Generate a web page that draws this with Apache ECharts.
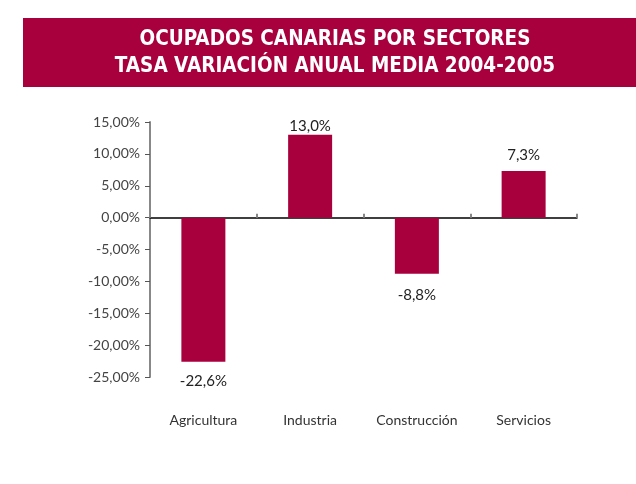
<!DOCTYPE html>
<html>
<head>
<meta charset="utf-8">
<script src="https://cdn.jsdelivr.net/npm/echarts@6/dist/echarts.min.js"></script>
<style>
  html, body { margin: 0; padding: 0; background: #fff; }
  #chart { width: 636px; height: 484px; }
</style>
</head>
<body>
<div id="chart"></div>
<script>
var categories = ['Agricultura', 'Industria', 'Construcción', 'Servicios'];
var values = [-22.6, 13.0, -8.8, 7.3];
var titleLines = ['OCUPADOS CANARIAS POR SECTORES', 'TASA VARIACIÓN ANUAL MEDIA 2004-2005'];

var wine = '#a8003c';
var font = 'Lato';
// gap between bar end and its value label, per bar (as in the source image)
var labelGap = [12, 1, 14, 8];

var chart = echarts.init(document.getElementById('chart'));

function fmtAxis(v) {
  return v.toFixed(2).replace('.', ',') + '%';
}
function fmtLabel(p) {
  return p.value.toFixed(1).replace('.', ',') + '%';
}

var option = {
  backgroundColor: '#fff',
  animation: false,
  graphic: [
    {
      type: 'rect',
      shape: { x: 23, y: 18, width: 613, height: 69 },
      style: { fill: wine }
    },
    {
      type: 'text',
      x: 335, y: 53,
      style: {
        text: titleLines.join('\n'),
        fill: '#fff',
        font: 'bold 20.5px "DejaVu Sans Condensed", "DejaVu Sans", sans-serif',
        align: 'center',
        verticalAlign: 'middle',
        lineHeight: 27
      }
    }
  ],
  grid: { left: 150, right: 59, top: 122, bottom: 107 },
  xAxis: [
    {
      type: 'category',
      data: categories,
      position: 'bottom',
      axisLine: { show: false, onZero: false },
      axisTick: { show: false },
      axisLabel: { interval: 0, margin: 36, color: '#333', fontFamily: font, fontSize: 14 }
    },
    {
      type: 'category',
      data: categories,
      axisLine: { show: true, onZero: true, lineStyle: { color: '#000', width: 1.5 } },
      axisTick: { show: true, length: 4, lineStyle: { color: '#888', width: 2 } },
      axisLabel: { show: false }
    }
  ],
  yAxis: {
    type: 'value',
    min: -25,
    max: 15,
    interval: 5,
    axisLine: { show: true, lineStyle: { color: '#888', width: 2 } },
    axisTick: { show: true, length: 5, lineStyle: { color: '#555' } },
    splitLine: { show: false },
    axisLabel: {
      formatter: fmtAxis,
      color: '#444',
      fontFamily: font,
      fontSize: 14,
      margin: 10
    }
  },
  series: [
    {
      type: 'bar',
      xAxisIndex: 0,
      barWidth: 44,
      itemStyle: { color: wine },
      label: {
        show: true,
        formatter: fmtLabel,
        color: '#222',
        fontFamily: font,
        fontSize: 15
      },
      data: values.map(function (v, i) {
        return {
          value: v,
          label: { position: v >= 0 ? 'top' : 'bottom', distance: labelGap[i] }
        };
      })
    }
  ]
};

chart.setOption(option);
</script>
</body>
</html>
